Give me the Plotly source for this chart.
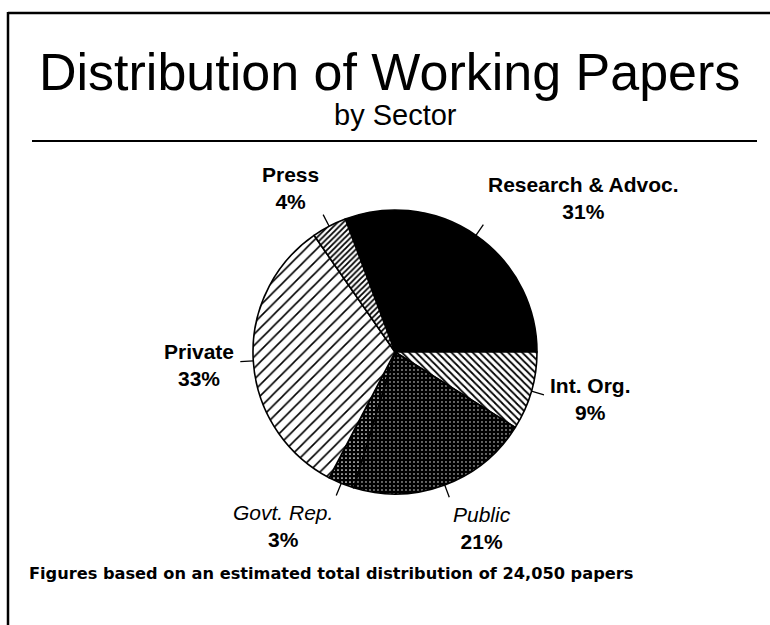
import math
import plotly.graph_objects as go

# ---- data ----
sectors = ["Research & Advoc.", "Int. Org.", "Public", "Govt. Rep.", "Private", "Press"]
shares = [31, 9, 21, 3, 33, 4]
pct_labels = ["31%", "9%", "21%", "3%", "33%", "4%"]
italic_names = [False, False, True, True, False, False]
title_text = "Distribution of Working Papers"
subtitle_text = "by Sector"
footnote_text = "Figures based on an estimated total distribution of 24,050 papers"

# ---- styles ----
W, H = 770, 625
cx, cy, R = 395, 352, 142          # pie centre / radius in pixels
FONT = "Liberation Sans, Arial, Helvetica, sans-serif"
pat_shapes = ["", "\\", ".", ".", "/", "/"]
pat_fg = ["black", "black", "white", "white", "black", "black"]
pat_bg = ["black", "white", "black", "black", "white", "white"]
pat_size = [6, 5, 4, 4, 8, 4]
pat_solid = [0.3, 0.35, 0.1, 0.15, 0.2, 0.45]

total = sum(shares)
rotation = 90 - shares[0] / total * 360   # first slice ends at 3 o'clock


def px(x):
    return x / W


def py(y):
    return 1 - y / H


fig = go.Figure()
fig.add_trace(go.Pie(
    labels=sectors,
    values=shares,
    sort=False,
    direction="clockwise",
    rotation=rotation,
    textinfo="none",
    hoverinfo="skip",
    showlegend=False,
    domain=dict(x=[px(cx - R), px(cx + R)], y=[py(cy + R), py(cy - R)]),
    marker=dict(
        colors=pat_bg,
        line=dict(color="black", width=1.6),
        pattern=dict(shape=pat_shapes, fgcolor=pat_fg, bgcolor=pat_bg,
                     size=pat_size, solidity=pat_solid, fillmode="replace"),
    ),
))

shapes = []
annotations = []
start = rotation
for name, v, pct, ital in zip(sectors, shares, pct_labels, italic_names):
    mid = math.radians(start + v / total * 360 / 2)
    start += v / total * 360
    s, c = math.sin(mid), math.cos(mid)
    r0, r1, r2 = R, R + 13, R + 17
    shapes.append(dict(type="line", xref="paper", yref="paper",
                       x0=px(cx + r0 * s), y0=py(cy - r0 * c),
                       x1=px(cx + r1 * s), y1=py(cy - r1 * c),
                       line=dict(color="black", width=1.3)))
    xa = "left" if s > 0.2 else ("right" if s < -0.2 else "center")
    ya = "bottom" if c > 0.5 else ("top" if c < -0.5 else "middle")
    yoff = 0
    if ya == "middle":
        yoff = 3.5
    elif ya == "bottom":
        yoff = 4
    if ital:
        txt = f"<i>{name}</i><br><b>{pct}</b>"
    else:
        txt = f"<b>{name}</b><br><b>{pct}</b>"
    annotations.append(dict(xref="paper", yref="paper",
                            x=px(cx + r2 * s), y=py(cy - r2 * c + yoff),
                            xanchor=xa, yanchor=ya, text=txt, showarrow=False,
                            align="center",
                            font=dict(family=FONT, size=21, color="black")))

# title, subtitle, footnote
annotations.append(dict(xref="paper", yref="paper", x=px(389), y=py(72),
                        xanchor="center", yanchor="middle", text=title_text,
                        showarrow=False, font=dict(family=FONT, size=52, color="black")))
annotations.append(dict(xref="paper", yref="paper", x=px(395), y=py(115.5),
                        xanchor="center", yanchor="middle", text=subtitle_text,
                        showarrow=False, font=dict(family=FONT, size=29, color="black")))
annotations.append(dict(xref="paper", yref="paper", x=px(27), y=py(573.5),
                        xanchor="left", yanchor="middle", text=f"<b>{footnote_text}</b>",
                        showarrow=False,
                        font=dict(family="DejaVu Sans, Verdana, sans-serif", size=16.2, color="black")))

# frame and rule
shapes.append(dict(type="line", xref="paper", yref="paper", x0=px(8), y0=py(13), x1=px(W), y1=py(13),
                   line=dict(color="black", width=2.5)))
shapes.append(dict(type="line", xref="paper", yref="paper", x0=px(8), y0=py(12), x1=px(8), y1=py(H),
                   line=dict(color="black", width=2.5)))
shapes.append(dict(type="line", xref="paper", yref="paper", x0=px(32), y0=py(141), x1=px(757), y1=py(141),
                   line=dict(color="black", width=2)))

fig.update_layout(
    width=W, height=H,
    margin=dict(l=0, r=0, t=0, b=0),
    paper_bgcolor="white", plot_bgcolor="white",
    shapes=shapes, annotations=annotations,
)

fig.write_html("out.html")
